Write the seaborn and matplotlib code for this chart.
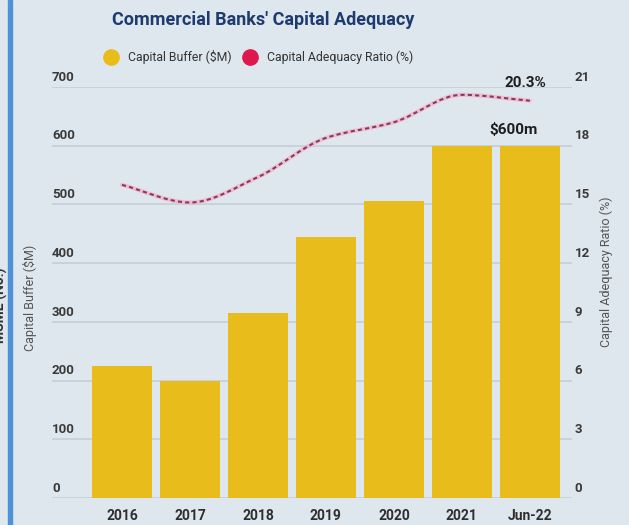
import numpy as np
import pandas as pd
import matplotlib
matplotlib.use("Agg")
import matplotlib.pyplot as plt
from matplotlib.path import Path
from matplotlib.patches import PathPatch, Rectangle
from matplotlib.lines import Line2D
import seaborn as sns

# ---- data ----
periods = ["2016", "2017", "2018", "2019", "2020", "2021", "Jun-22"]
capital_buffer = [225, 200, 315, 445, 505, 600, 600]          # $M
adequacy_ratio = [16.0, 15.1, 16.4, 18.4, 19.2, 20.6, 20.3]   # %
left_ticks = [0, 100, 200, 300, 400, 500, 600, 700]
right_ticks = [0, 3, 6, 9, 12, 15, 18, 21]

BG = "#dee7ee"
GOLD = "#e8bd1b"
CRIMSON = "#e0174c"
NAVY = "#1d3b6e"
GRID = "#c3ccd5"

sns.set_theme(style="white")
plt.rcParams["font.family"] = ["Roboto", "DejaVu Sans"]

W, H = 629, 525
fig = plt.figure(figsize=(W / 100, H / 100), dpi=100, facecolor=BG)

# plot area in pixels
x0, x1, y_base, y_top = 52, 572, 498, 87
ax = fig.add_axes([x0 / W, 1 - y_base / H, (x1 - x0) / W, (y_base - y_top) / H])
ax.set_facecolor(BG)

df = pd.DataFrame({"period": periods, "buffer": capital_buffer, "ratio": adequacy_ratio})

sns.barplot(data=df, x="period", y="buffer", ax=ax, color=GOLD, width=0.885,
            saturation=1, edgecolor="none", zorder=2)
ax.set_xlim(-1.03, 6.62)
ax.set_ylim(0, 700)
ax.set_yticks(left_ticks)
ax.set_yticklabels([])
ax.tick_params(axis="y", length=0)
ax.yaxis.grid(True, color=GRID, lw=1.1, zorder=0)
ax.set_axisbelow(True)
for s in ax.spines.values():
    s.set_visible(False)
ax.set_xlabel("")
ax.set_ylabel("")
ax.tick_params(axis="x", length=0, pad=8)
for lab in ax.get_xticklabels():
    lab.set_fontsize(10)
    lab.set_fontweight("bold")
    lab.set_color("#2e2e2e")

# left tick labels sit just above their gridlines
for v in left_ticks:
    ax.annotate(str(v), xy=(0, v), xycoords=("axes fraction", "data"),
                xytext=(0, 7), textcoords="offset points", ha="left", va="center",
                fontsize=9.5, fontweight="bold", color="#3a3a3a")

# secondary axis for the ratio
ax2 = ax.twinx()
ax2.set_ylim(0, 21)
ax2.set_yticks(right_ticks)
ax2.set_yticklabels([])
ax2.tick_params(axis="y", length=0)
for s in ax2.spines.values():
    s.set_visible(False)
ax2.grid(False)
for v in right_ticks:
    ax2.annotate(str(v), xy=(1, v), xycoords=("axes fraction", "data"),
                 xytext=(2, 7), textcoords="offset points", ha="left", va="center",
                 fontsize=9.5, fontweight="bold", color="#3a3a3a")


def monotone_path(xs, ys):
    """Monotone cubic (Fritsch-Carlson) curve through the points as Bezier segments."""
    xs = np.asarray(xs, float)
    ys = np.asarray(ys, float)
    n = len(xs)
    h = np.diff(xs)
    d = np.diff(ys) / h
    m = np.zeros(n)
    m[0], m[-1] = d[0], d[-1]
    for i in range(1, n - 1):
        if d[i - 1] * d[i] <= 0:
            m[i] = 0
        else:
            m[i] = 3 * (h[i - 1] + h[i]) / ((2 * h[i] + h[i - 1]) / d[i - 1] + (h[i] + 2 * h[i - 1]) / d[i])
    verts = [(xs[0], ys[0])]
    codes = [Path.MOVETO]
    for i in range(n - 1):
        t = h[i] / 3
        verts += [(xs[i] + t, ys[i] + m[i] * t), (xs[i + 1] - t, ys[i + 1] - m[i + 1] * t), (xs[i + 1], ys[i + 1])]
        codes += [Path.CURVE4] * 3
    return Path(verts, codes)


xpos = np.arange(len(periods))
curve = monotone_path(xpos, adequacy_ratio)
ax2.add_patch(PathPatch(curve, fill=False, lw=3.0, color="#f3b3c6", alpha=0.75, zorder=3,
                        capstyle="round"))
ax2.add_patch(PathPatch(curve, fill=False, lw=1.5, color="#8a3766", linestyle=(0, (2, 1.5)),
                        zorder=4))

# value callouts on the latest period
ax2.annotate(f"{adequacy_ratio[-1]:.1f}%", xy=(xpos[-1], adequacy_ratio[-1]), xytext=(-3, 13),
             textcoords="offset points", ha="center", va="center",
             fontsize=11, fontweight="bold", color="#1e1e1e")
ax.annotate(f"${capital_buffer[-1]}m", xy=(xpos[-1], capital_buffer[-1]), xytext=(-12, 11),
            textcoords="offset points", ha="center", va="center",
            fontsize=11, fontweight="bold", color="#1e1e1e")

# axis titles
fig.text(30 / W, 1 - 298 / H, "Capital Buffer ($M)", rotation=90, ha="center", va="center",
         fontsize=9, color="#555555")
fig.text(606 / W, 1 - 272 / H, "Capital Adequacy Ratio (%)", rotation=90, ha="center", va="center",
         fontsize=9, color="#555555")

# title and legend
fig.text(263 / W, 1 - 20 / H, "Commercial Banks' Capital Adequacy", ha="center", va="center",
         fontsize=13, fontweight="bold", color=NAVY)
handles = [Line2D([], [], marker="o", ls="none", markersize=11, color=GOLD),
           Line2D([], [], marker="o", ls="none", markersize=11, color=CRIMSON)]
fig.legend(handles, ["Capital Buffer ($M)", "Capital Adequacy Ratio (%)"], loc="center",
           bbox_to_anchor=(259 / W, 1 - 57 / H), ncol=2, frameon=False, fontsize=8.8,
           handletextpad=0.9, columnspacing=1.0, handlelength=1.0, labelcolor="#333333")

# edge of the neighbouring panel
fig.patches.append(Rectangle((8 / W, 0), 4 / W, 1, transform=fig.transFigure,
                             color="#4f92d8", zorder=5))
fig.text(0, 1 - 305 / H, "MSME (No.)", rotation=90, ha="center", va="center",
         fontsize=10, fontweight="bold", color="#333333")

fig.savefig("out.png", dpi=100, facecolor=BG)
